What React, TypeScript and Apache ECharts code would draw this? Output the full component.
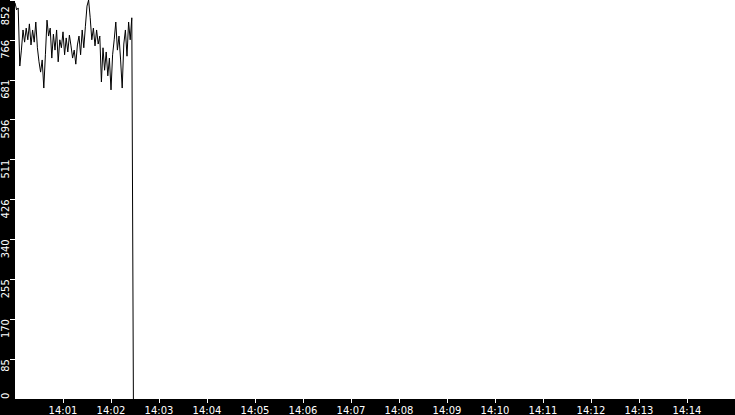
import * as echarts from 'echarts';
import { useEffect, useRef } from 'react';

// samples every 2 s starting at 14:00:00
const START_HOUR = 14;
const SAMPLE_SECONDS = 2;
const signalValues = [
  846, 831, 835, 711, 745, 788, 762, 792, 767, 801,
  756, 788, 762, 805, 750, 720, 698, 724, 664, 735,
  809, 775, 792, 728, 779, 745, 788, 720, 767, 750,
  784, 735, 771, 741, 777, 754, 728, 745, 715, 756,
  775, 735, 788, 750, 796, 839, 852, 814, 767, 792,
  754, 788, 758, 775, 677, 750, 702, 741, 690, 728,
  660, 735, 767, 805, 745, 775, 724, 664, 758, 788,
  732, 805, 767, 814, 0,
];
const yMax = 852;
const yStep = 85.2;
const xMaxSeconds = 15 * 60;

const pad2 = (n: number) => String(n).padStart(2, '0');

const App = () => {
  const chartRef = useRef<HTMLDivElement>(null);

  useEffect(() => {
    if (!chartRef.current) return;
    const chart = echarts.init(chartRef.current, undefined, { renderer: 'svg' });

    const points = signalValues.map((v, i) => [i * SAMPLE_SECONDS, v]);
    const yFont = "'Liberation Sans Narrow', 'DejaVu Sans Condensed', 'Liberation Sans', sans-serif";

    chart.setOption({
      animation: false,
      backgroundColor: '#000',
      grid: {
        backgroundColor: '#fff',
        borderWidth: 0,
        bottom: 16,
        left: 15,
        outerBoundsMode: 'none',
        right: 0,
        show: true,
        top: 0,
      },
      series: [
        {
          data: points,
          lineStyle: { color: '#000', width: 1 },
          showSymbol: false,
          symbol: 'none',
          type: 'line',
        },
      ],
      xAxis: {
        axisLabel: {
          color: '#fff',
          fontFamily: "'DejaVu Sans', sans-serif",
          fontSize: 10,
          formatter: (v: number) => {
            const total = Math.round(v / 60);
            return `${START_HOUR + Math.floor(total / 60)}:${pad2(total % 60)}`;
          },
          margin: 6,
          showMaxLabel: false,
          showMinLabel: false,
        },
        axisLine: { show: false },
        axisTick: { length: 4, lineStyle: { color: '#fff', width: 1 } },
        interval: 60,
        max: xMaxSeconds,
        min: 0,
        splitLine: { show: false },
        type: 'value',
      },
      yAxis: [
        {
          axisLabel: {
            align: 'right',
            color: '#fff',
            fontFamily: yFont,
            fontSize: 11,
            formatter: (v: number) => {
              const s = String(Math.floor(v + 1e-6));
              return v >= yMax - 1e-6 ? `${s}  ` : s;
            },
            margin: 4,
            rotate: 90,
            showMinLabel: false,
          },
          axisLine: { show: false },
          axisTick: { length: 5, lineStyle: { color: '#fff', width: 1 } },
          interval: yStep,
          max: yMax,
          min: 0,
          position: 'left',
          splitLine: { show: false },
          type: 'value',
        },
        {
          axisLabel: {
            align: 'left',
            color: '#fff',
            fontFamily: yFont,
            fontSize: 11,
            formatter: (v: number) => (v === 0 ? '0' : ''),
            margin: 4,
            rotate: 90,
          },
          axisLine: { show: false },
          axisTick: { show: false },
          interval: yStep,
          max: yMax,
          min: 0,
          position: 'left',
          splitLine: { show: false },
          type: 'value',
        },
      ],
    });

    return () => {
      chart.dispose();
    };
  }, []);

  return (
    <div
      ref={chartRef}
      style={{ height: 415, left: 0, position: 'absolute', top: 0, width: 735 }}
    />
  );
};

export default App;
